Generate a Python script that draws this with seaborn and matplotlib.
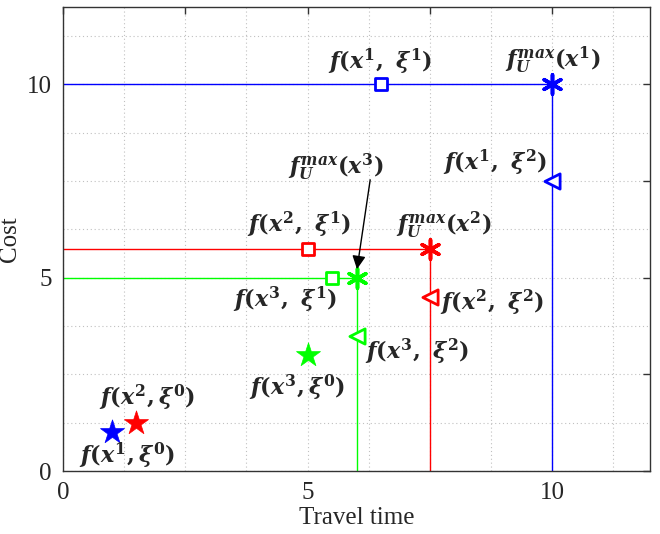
import numpy as np
import pandas as pd
import matplotlib
matplotlib.use("Agg")
import matplotlib.pyplot as plt
import seaborn as sns

# ---- data ----
solutions = ["x1", "x2", "x3"]
colors = ["#0000FF", "#FF0000", "#00FF00"]
star_x = [1.0, 1.5, 5.0]        # f(x, xi^0)
star_y = [1.0, 1.25, 3.0]
square_x = [6.5, 5.0, 5.5]      # f(x, xi^1)
square_y = [10.0, 5.75, 5.0]
tri_x = [10.0, 7.5, 6.0]        # f(x, xi^2)
tri_y = [7.5, 4.5, 3.5]
ast_x = [10.0, 7.5, 6.0]        # f_U^max(x)
ast_y = [10.0, 5.75, 5.0]

xtick_vals = [0, 2.5, 5, 7.5, 10]
xtick_labels = ["0", "", "5", "", "10"]
ytick_vals = [0, 2.5, 5, 7.5, 10]
ytick_labels = ["0", "", "5", "", "10"]

labels = [
    (r"$f(x^1,\ \xi^1)$", 6.48, 10.58),
    (r"$f_U^{max}(x^1)$", 10.02, 10.63),
    (r"$f(x^1,\ \xi^2)$", 8.83, 7.96),
    (r"$f_U^{max}(x^3)$", 5.58, 7.86),
    (r"$f(x^2,\ \xi^1)$", 4.83, 6.36),
    (r"$f_U^{max}(x^2)$", 7.79, 6.36),
    (r"$f(x^3,\ \xi^1)$", 4.54, 4.42),
    (r"$f(x^2,\ \xi^2)$", 8.77, 4.34),
    (r"$f(x^3,\ \xi^2)$", 7.24, 3.08),
    (r"$f(x^3,\xi^0)$", 4.79, 2.15),
    (r"$f(x^2,\xi^0)$", 1.72, 1.89),
    (r"$f(x^1,\xi^0)$", 1.31, 0.39),
]

# ---- style ----
sns.set_style("white")
plt.rcParams["font.family"] = ["Liberation Serif", "DejaVu Serif"]
plt.rcParams["mathtext.fontset"] = "custom"
plt.rcParams["mathtext.rm"] = "DejaVu Serif:bold"
plt.rcParams["mathtext.it"] = "DejaVu Serif:italic:bold"
plt.rcParams["mathtext.bf"] = "DejaVu Serif:bold"

fig = plt.figure(figsize=(6.6, 5.34), dpi=100)
ax = fig.add_axes([63 / 660, 63 / 534, 587 / 660, 464 / 534])

# guide lines
for i, c in enumerate(colors):
    sns.lineplot(x=[0, ast_x[i]], y=[ast_y[i], ast_y[i]], color=c, lw=1,
                 estimator=None, sort=False, ax=ax, zorder=2)
    sns.lineplot(x=[ast_x[i], ast_x[i]], y=[0, ast_y[i]], color=c, lw=1,
                 estimator=None, sort=False, ax=ax, zorder=2)

for i, c in enumerate(colors):
    sns.scatterplot(x=[star_x[i]], y=[star_y[i]], marker="*", s=330,
                    color=c, edgecolor=c, linewidth=0.5, ax=ax, zorder=4)
    sns.scatterplot(x=[square_x[i]], y=[square_y[i]], marker="s", s=72,
                    facecolor="white", edgecolor=c, linewidth=2, ax=ax, zorder=4)
    sns.scatterplot(x=[tri_x[i]], y=[tri_y[i]], marker="<", s=120,
                    facecolor="white", edgecolor=c, linewidth=2, ax=ax, zorder=4)
    sns.scatterplot(x=[ast_x[i]], y=[ast_y[i]], marker=(6, 2, 0), s=190,
                    color=c, edgecolor=c, linewidth=2.6, ax=ax, zorder=4)

for txt, x, y in labels:
    ax.text(x, y, txt, ha="center", va="center", fontsize=16, zorder=5)

ax.annotate("", xy=(6.01, 5.22), xytext=(6.28, 7.53),
            arrowprops=dict(arrowstyle="-|>", color="k", lw=1,
                            mutation_scale=20, shrinkA=0, shrinkB=0),
            zorder=5)

ax.set_xlim(0, 12)
ax.set_ylim(0, 12)
ax.set_xticks(xtick_vals)
ax.set_xticklabels(xtick_labels)
ax.set_yticks(ytick_vals)
ax.set_yticklabels(ytick_labels)
ax.set_xticks(np.arange(1.25, 12, 2.5), minor=True)
ax.set_yticks(np.arange(1.25, 12, 2.5), minor=True)
ax.tick_params(which="major", direction="in", length=5, width=1, top=True,
               right=True, labelsize=18, pad=8, color="#333333")
ax.tick_params(which="minor", length=0, top=True, right=True)
ax.grid(True, which="both", linestyle=(0, (1, 2.5)), color="#c0c0c0", lw=0.8)
ax.set_axisbelow(True)
for sp in ax.spines.values():
    sp.set_color("#333333")
    sp.set_linewidth(1)

ax.set_xlabel("Travel time", fontsize=18, labelpad=2)
ax.set_ylabel("Cost", fontsize=18, labelpad=4)

fig.savefig("out.png", dpi=100)
